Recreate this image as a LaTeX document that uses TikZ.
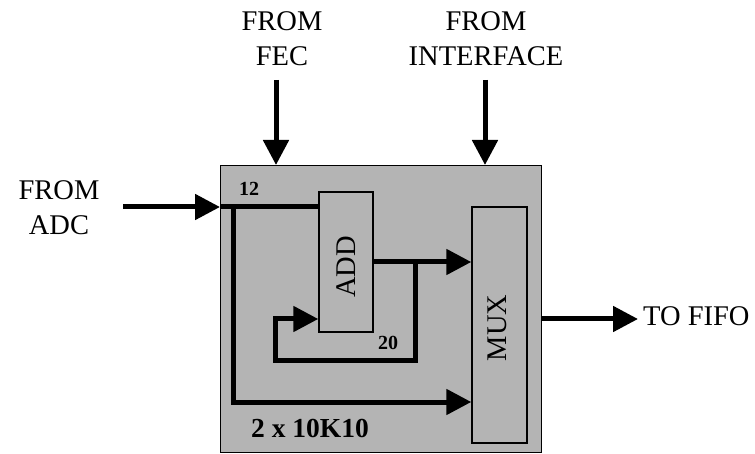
\documentclass[tikz,border=0pt]{standalone}
\usepackage{fontspec}
\setmainfont{Liberation Serif}
\usetikzlibrary{arrows.meta}
\definecolor{boxgray}{RGB}{180,180,180}
\begin{document}
\begin{tikzpicture}[x=1pt,y=-1pt,
  wire/.style={line width=5pt, -{Triangle[length=25pt,width=25pt]}},
  plainwire/.style={line width=5pt},
  blk/.style={draw=black, line width=1.4pt, fill=boxgray, inner sep=0pt},
  biglbl/.style={font=\fontsize{28.5}{34.5}\selectfont, align=center, inner sep=0pt},
  smalllbl/.style={font=\fontsize{20}{24}\selectfont\bfseries, inner sep=0pt},
  insidelbl/.style={font=\fontsize{28.5}{34}\selectfont, inner sep=0pt, rotate=90}]
\useasboundingbox (0,0) rectangle (755,454);
% main chip
\node[blk, minimum width=321pt, minimum height=287pt, anchor=north west] (chip) at (220,165) {};
% inner blocks
\node[blk, minimum width=54pt, minimum height=140pt] (add) at (346,262) {};
\node[insidelbl] (addtxt) at (346,267) {ADD};
\node[blk, minimum width=55pt, minimum height=236pt] (mux) at (499.5,325) {};
\node[insidelbl] (muxtxt) at (497,328) {MUX};
% outside labels
\node[biglbl] (fec) at (282,38.5) {FROM\\FEC};
\node[biglbl] (intf) at (486,38.5) {FROM\\INTERFACE};
\node[biglbl] (adc) at (59,207.5) {FROM\\ADC};
\node[biglbl, anchor=west] (fifo) at (643,316) {TO FIFO};
% inside labels
\node[smalllbl] (n12) at (249,189) {12};
\node[smalllbl] (n20) at (388,343) {20};
\node[font=\fontsize{27.5}{33}\selectfont\bfseries, inner sep=0pt] (dev) at (310,428) {2 x 10K10};
% coordinates
\coordinate (adcs) at (123,207);
\coordinate (j1) at (233,207);
\coordinate (j2) at (233,402);
\coordinate (fecs) at (276,80);
\coordinate (intfs) at (485,80);
\coordinate (br) at (415,262);
\coordinate (fb1) at (415,360);
\coordinate (fb2) at (275,360);
\coordinate (fb3) at (275,319);
\coordinate (outy) at (541,319);
\coordinate (oute) at (638,319);
% connectors
\draw[wire] (adcs) -- (adcs -| chip.west);
\draw[wire] (fecs) -- (fecs |- chip.north);
\draw[wire] (intfs) -- (intfs |- chip.north);
\draw[plainwire] (j1 -| chip.west) -- (j1 -| add.west);
\draw[wire] (j1) -- (j2) -- (j2 -| mux.west);
\draw[wire] (add.east) -- (add.east -| mux.west);
\draw[wire] (br) -- (fb1) -- (fb2) -- (fb3) -- (fb3 -| add.west);
\draw[wire] (outy) -- (oute);
\end{tikzpicture}
\end{document}
